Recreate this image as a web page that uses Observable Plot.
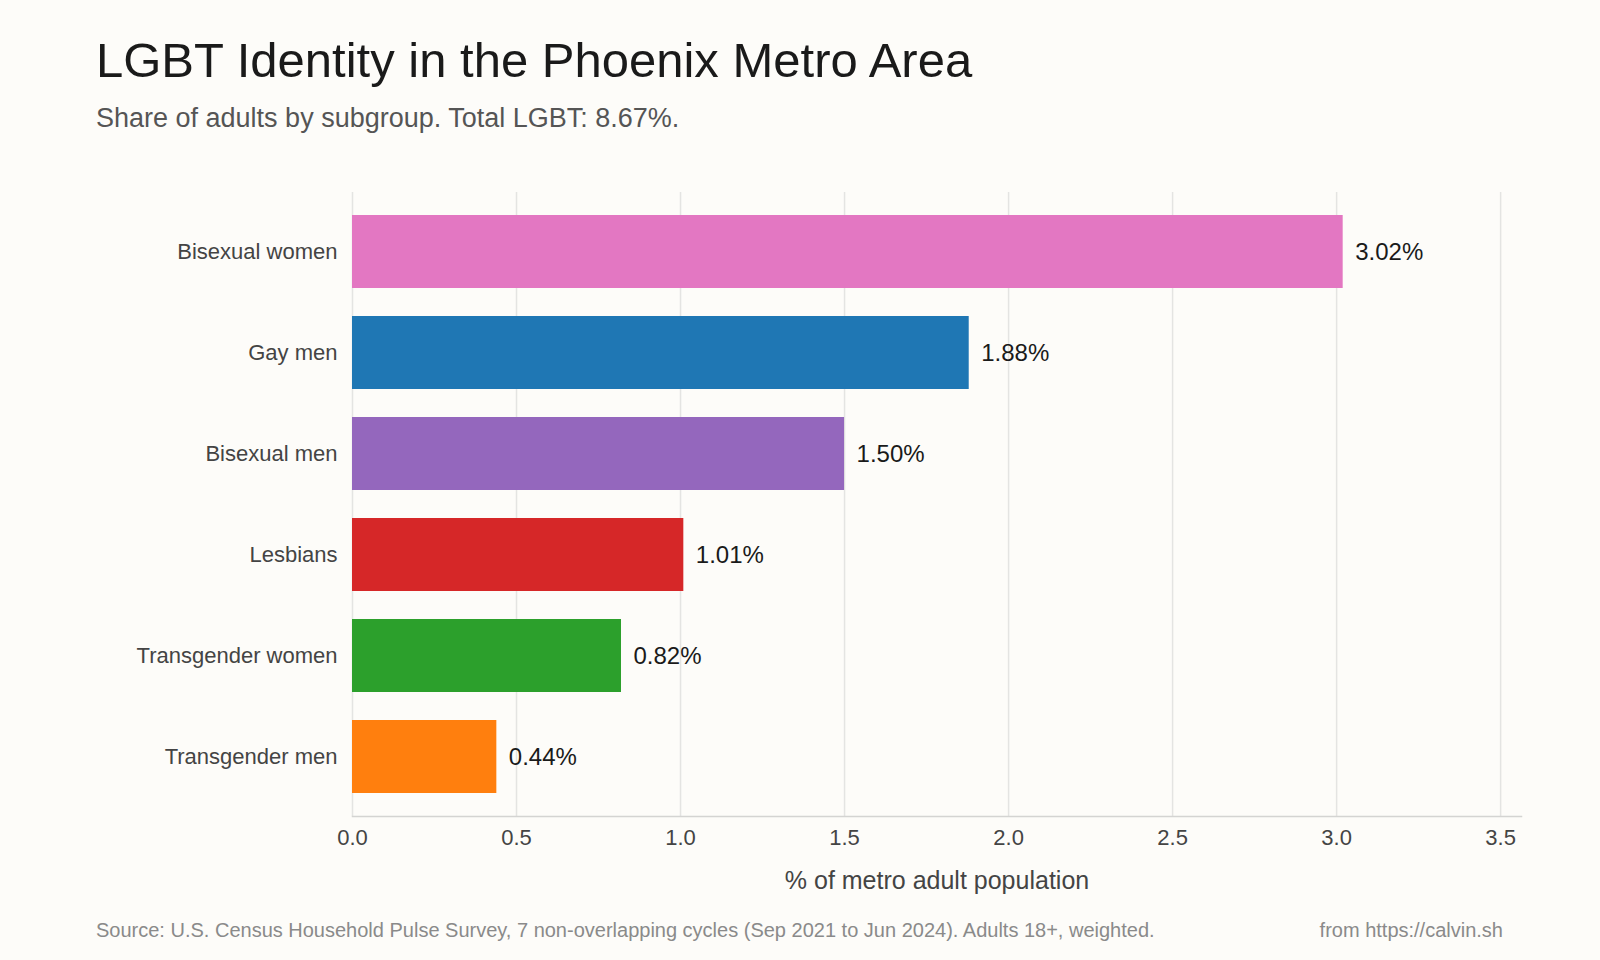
<!DOCTYPE html>
<html>
<head>
<meta charset="utf-8">
<script src="https://cdn.jsdelivr.net/npm/d3@7"></script>
<script src="https://cdn.jsdelivr.net/npm/@observablehq/plot@0.6"></script>
<style>
  html, body { margin: 0; padding: 0; background: #fdfcf9; }
  body { width: 1600px; height: 960px; position: relative; overflow: hidden;
         font-family: "Liberation Sans", Arial, Helvetica, sans-serif; }
  .t { position: absolute; line-height: 1; white-space: nowrap; }
  #title { left: 96px; top: 36px; font-size: 49px; color: #1a1a1a; }
  #subtitle { left: 96px; top: 105px; font-size: 27px; color: #555; }
  #chart { position: absolute; left: 0; top: 170px; }
  #source { left: 96px; top: 920px; font-size: 20px; color: #8a8a8a; }
  #credit { right: 97px; top: 920px; font-size: 20px; color: #8a8a8a; }
</style>
</head>
<body>
<div class="t" id="title">LGBT Identity in the Phoenix Metro Area</div>
<div class="t" id="subtitle">Share of adults by subgroup. Total LGBT: 8.67%.</div>
<div id="chart"></div>
<div class="t" id="source">Source: U.S. Census Household Pulse Survey, 7 non-overlapping cycles (Sep 2021 to Jun 2024). Adults 18+, weighted.</div>
<div class="t" id="credit">from https://calvin.sh</div>
<script>
const groups = ["Bisexual women", "Gay men", "Bisexual men", "Lesbians", "Transgender women", "Transgender men"];
const shares = [3.02, 1.88, 1.50, 1.01, 0.82, 0.44];
const colors = ["#e377c2", "#1f77b4", "#9467bd", "#d62728", "#2ca02c", "#ff7f0e"];
const xTicks = [0, 0.5, 1.0, 1.5, 2.0, 2.5, 3.0, 3.5];
const xLabel = "% of metro adult population";

const data = groups.map((g, i) => ({group: g, value: shares[i], color: colors[i]}));

const chart = Plot.plot({
  width: 1600,
  height: 730,
  marginTop: 22,
  marginBottom: 84,
  marginLeft: 352,
  marginRight: 79,
  style: {background: "transparent", fontFamily: "'Liberation Sans', Arial, sans-serif", fontSize: "22px"},
  x: {domain: [0, d3.max(shares) * 1.18]},
  y: {domain: groups, paddingInner: 0.28, paddingOuter: 0.22},
  color: {type: "identity"},
  marks: [
    Plot.gridX(xTicks, {stroke: "#e4e4e2", strokeOpacity: 1, strokeWidth: 1.5}),
    Plot.barX(data, {x: "value", y: "group", fill: "color"}),
    Plot.frame({anchor: "bottom", stroke: "#d4d4d2", strokeWidth: 1.5}),
    Plot.text(data, {x: "value", y: "group", text: d => d.value.toFixed(2) + "%",
      dx: 12, textAnchor: "start", fontSize: 24, fill: "#1a1a1a"}),
    Plot.axisX({ticks: xTicks, tickSize: 0, tickPadding: 13, tickFormat: d3.format(".1f"),
      fontSize: 22, fill: "#444", label: null}),
    Plot.axisX({ticks: [], tickSize: 0, fontSize: 25, fill: "#444",
      label: xLabel, labelAnchor: "center", labelArrow: "none", labelOffset: 72}),
    Plot.axisY({tickSize: 0, tickPadding: 15, label: null, fontSize: 22, fill: "#444"})
  ]
});
document.getElementById("chart").appendChild(chart);
</script>
</body>
</html>
